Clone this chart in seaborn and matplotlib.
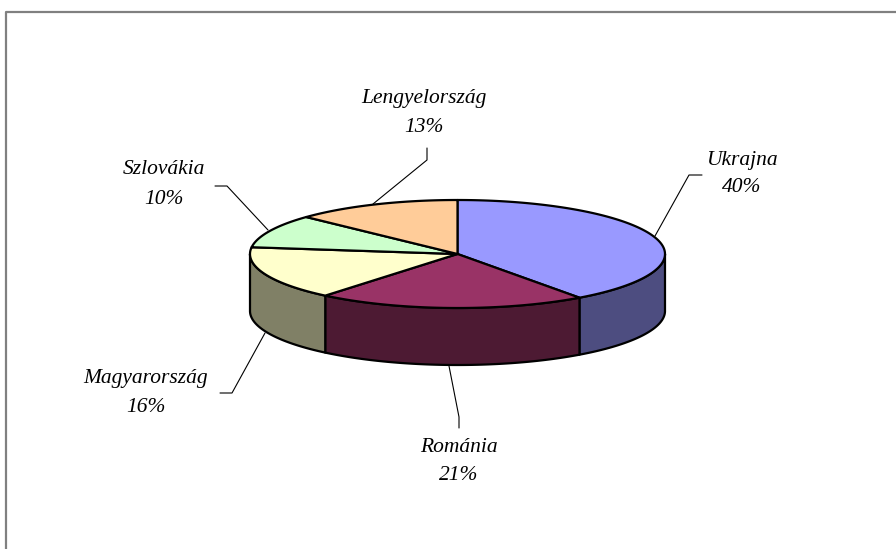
import numpy as np
import seaborn as sns
import matplotlib.pyplot as plt
import matplotlib.colors as mcolors
from matplotlib.patches import Polygon

countries = ["Ukrajna", "Románia", "Magyarország", "Szlovákia", "Lengyelország"]
shares = [40, 21, 16, 10, 13]
top_colors = ["#9999FF", "#993366", "#FFFFCC", "#CCFFCC", "#FFCC99"]

# pie geometry in pixel coordinates
cx, cy = 457.5, 254
a, b = 207.5, 54
depth = 57

# label centres and leader lines (pixels)
label_pos = {
    "Ukrajna": (742, 160, 188),
    "Románia": (459, 447, 475),
    "Magyarország": (146, 378, 408),
    "Szlovákia": (164, 170, 199),
    "Lengyelország": (424, 98, 127),
}
leaders = {
    "Ukrajna": [(702, 175), (689, 175), (655, 236)],
    "Románia": [(459, 428), (459, 417), (449, 366)],
    "Magyarország": [(220, 393), (232, 393), (265, 333)],
    "Szlovákia": [(215, 186), (227, 186), (268, 230)],
    "Lengyelország": [(427, 148), (427, 160), (373, 204)],
}

sns.set_theme(style="white")
plt.rcParams["font.family"] = ["Liberation Serif", "DejaVu Serif"]

fig = plt.figure(figsize=(8.96, 5.49), dpi=100)
ax = fig.add_axes([0, 0, 1, 1])
ax.set_xlim(0, 896)
ax.set_ylim(549, 0)
ax.axis("off")

# chart frame (only top and left edges inside the picture)
ax.plot([6, 6, 896], [549, 12, 12], color="#808080", lw=1.6, solid_capstyle="butt")

def arc(t1, t2, dy=0):
    t = np.radians(np.linspace(t1, t2, 120))
    return np.column_stack([cx + a * np.cos(t), cy + b * np.sin(t) + dy])

starts = -90 + np.concatenate([[0], np.cumsum(shares)[:-1]]) * 3.6
ends = starts + np.array(shares) * 3.6

# side walls for the front half (0..180 deg, y pointing down)
for s, e, col in zip(starts, ends, top_colors):
    lo, hi = max(s, 0), min(e, 180)
    if hi <= lo:
        continue
    side = np.array(mcolors.to_rgb(col)) * 0.5
    pts = np.vstack([arc(lo, hi), arc(hi, lo, depth)])
    ax.add_patch(Polygon(pts, closed=True, facecolor=side, edgecolor="black",
                         lw=1.6, joinstyle="round", zorder=2))

# top faces
for s, e, col in zip(starts, ends, top_colors):
    pts = np.vstack([[cx, cy], arc(s, e)])
    ax.add_patch(Polygon(pts, closed=True, facecolor=col, edgecolor="black",
                         lw=1.6, joinstyle="round", zorder=3))

for name, val in zip(countries, shares):
    x, y1, y2 = label_pos[name]
    ax.text(x, y1, name, ha="center", va="center", fontsize=15.5,
            style="italic", color="black")
    ax.text(x, y2, f"{val}%", ha="center", va="center", fontsize=15.5,
            style="italic", color="black")
    lx, ly = zip(*leaders[name])
    ax.plot(lx, ly, color="black", lw=0.8, zorder=4)

plt.savefig("out.png", dpi=100)
plt.close()
